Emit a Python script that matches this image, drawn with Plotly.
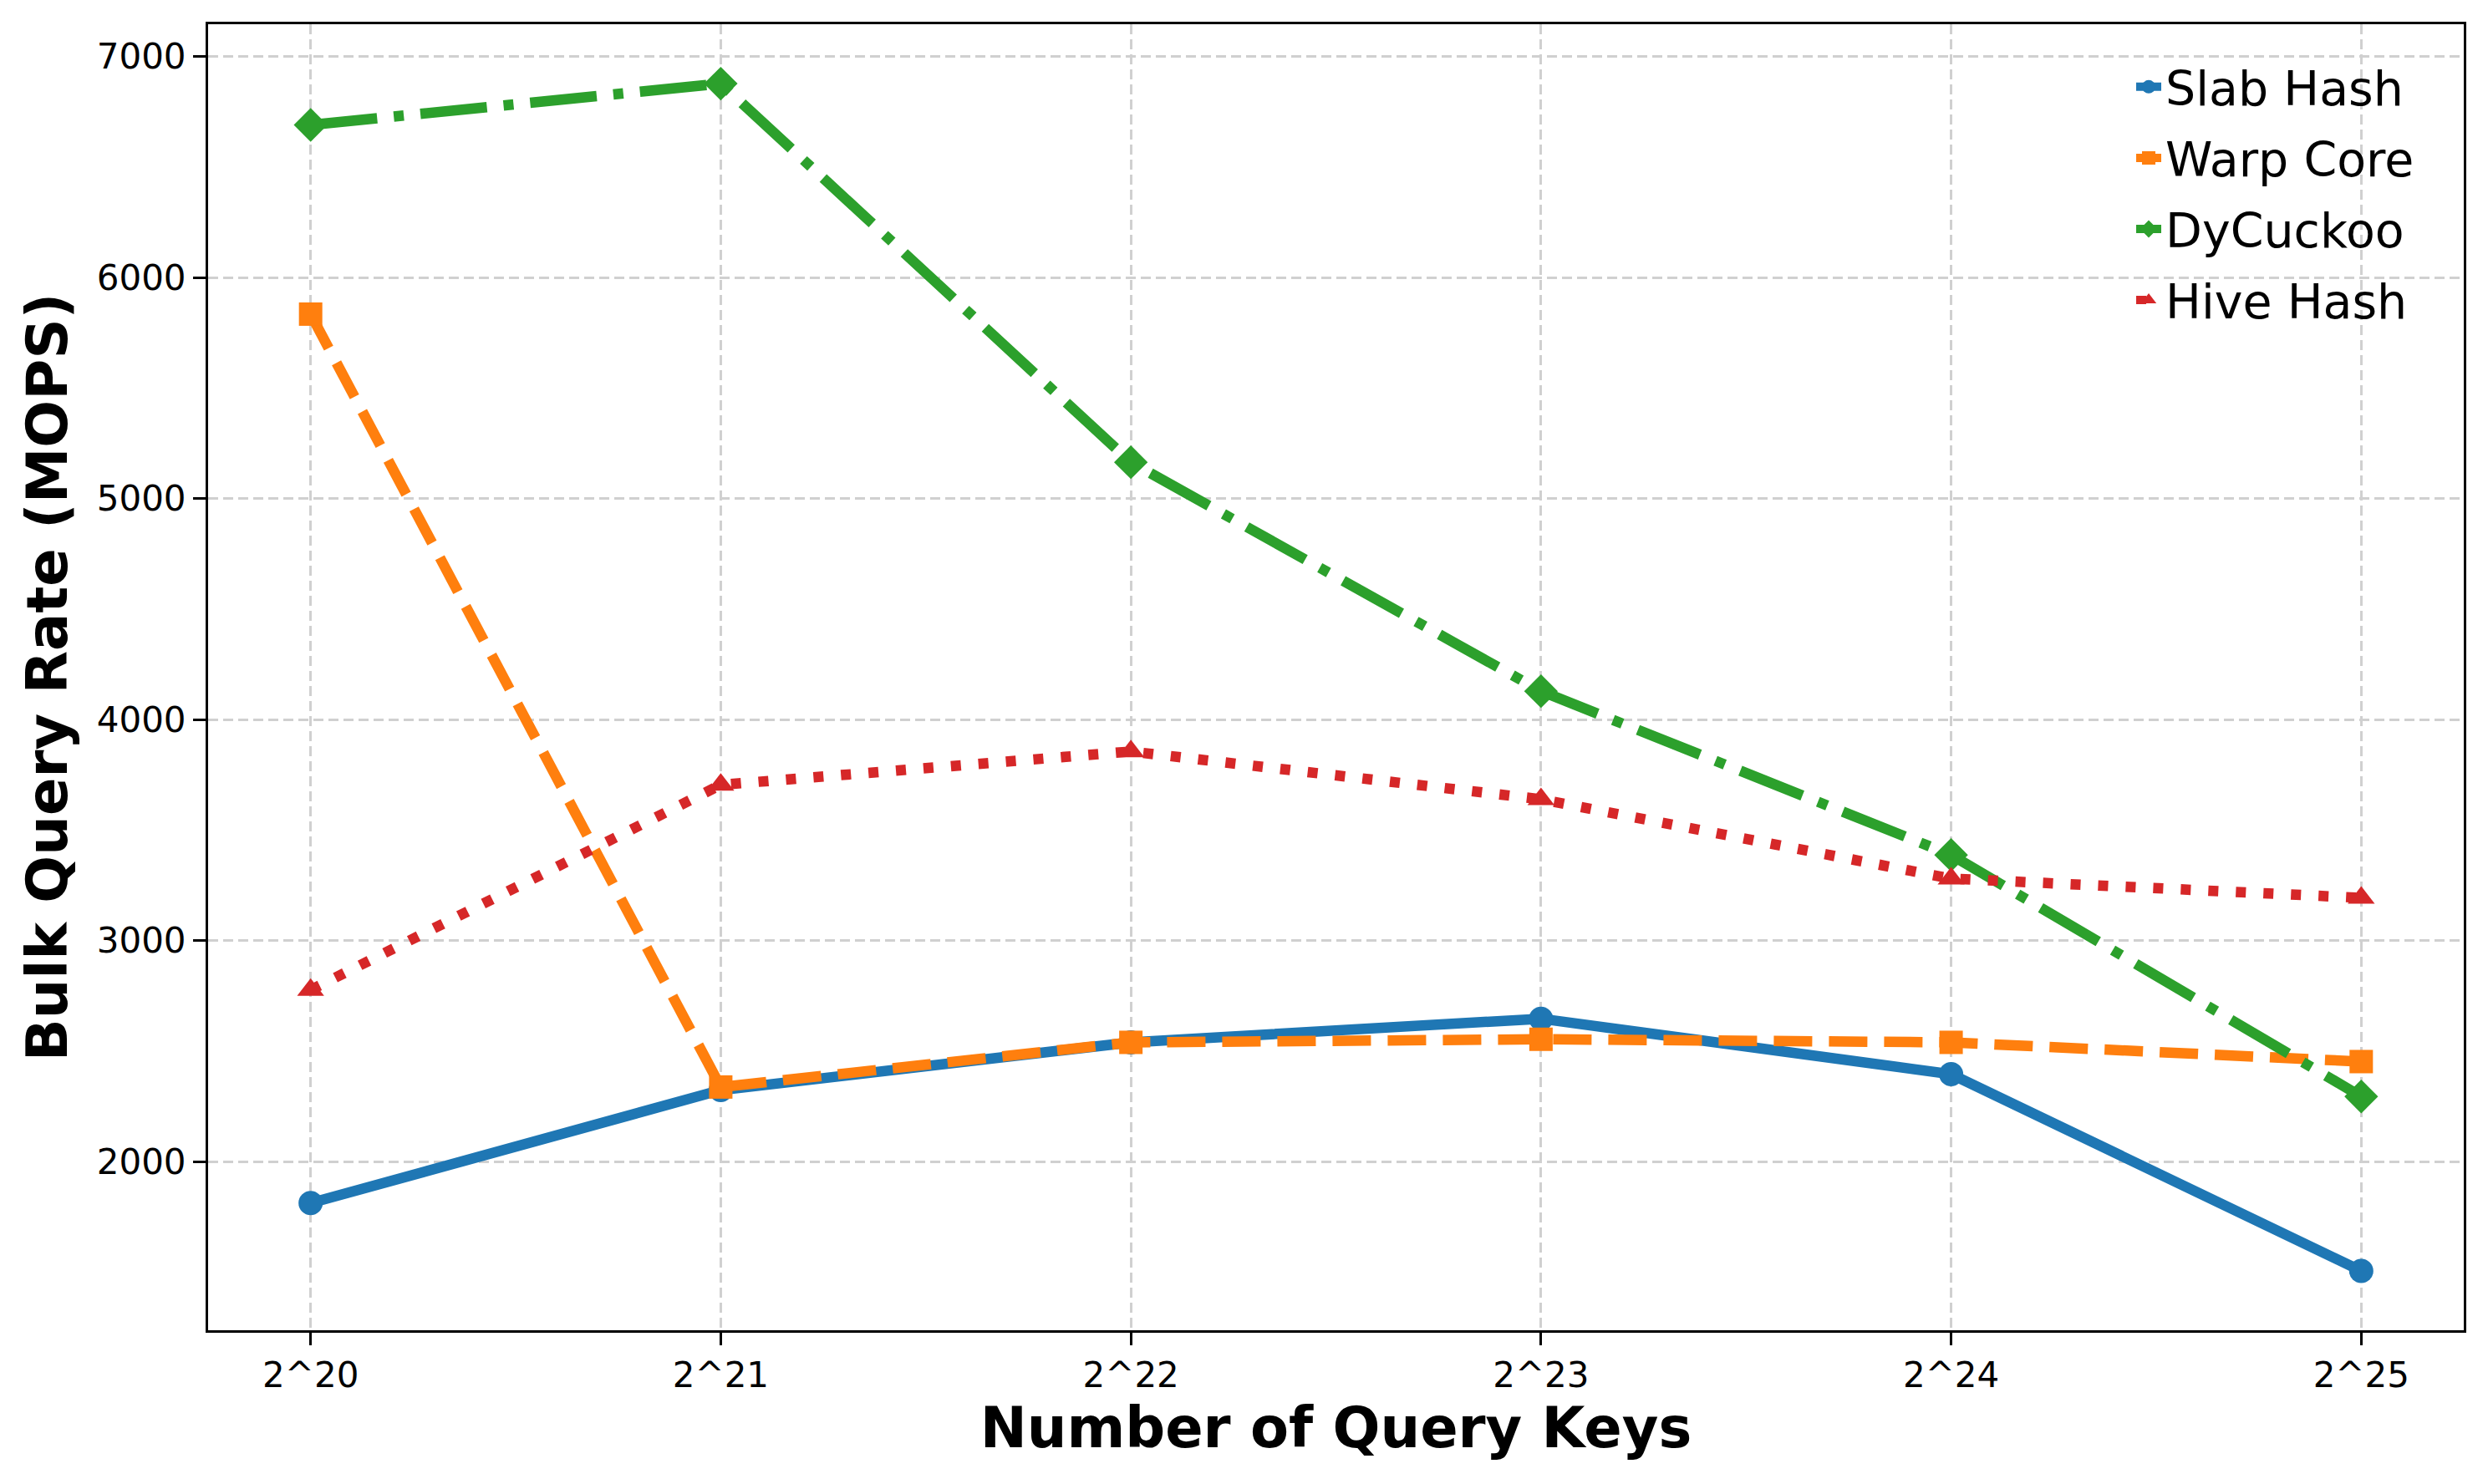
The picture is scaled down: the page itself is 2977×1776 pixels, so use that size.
import plotly.graph_objects as go

categories = ["2^20", "2^21", "2^22", "2^23", "2^24", "2^25"]
slab_hash = [1813, 2324, 2540, 2647, 2396, 1506]
warp_core = [5835, 2338, 2540, 2554, 2540, 2453]
dycuckoo = [6691, 6878, 5165, 4129, 3388, 2295]
hive_hash = [2777, 3705, 3856, 3640, 3281, 3194]
y_ticks = [2000, 3000, 4000, 5000, 6000, 7000]

series = [
    ("Slab Hash", slab_hash, "#1f77b4", "solid", "circle", 29),
    ("Warp Core", warp_core, "#ff7f0e", "46px,20px", "square", 28),
    ("DyCuckoo", dycuckoo, "#2ca02c", "80px,20px,12px,20px", "diamond", 31),
    ("Hive Hash", hive_hash, "#d62728", "12px,21px", "triangle-up", 28),
]

x = list(range(len(categories)))
fig = go.Figure()
for name, vals, color, dash, sym, ms in series:
    fig.add_trace(go.Scatter(
        x=x, y=vals, name=name, mode="lines+markers", legendgroup=name,
        line=dict(color=color, width=12.5, dash=dash),
        marker=dict(symbol=sym, size=ms, color=color, line=dict(width=0)),
    ))

all_vals = slab_hash + warp_core + dycuckoo + hive_hash
lo, hi = min(all_vals), max(all_vals)
pad = (hi - lo) * 0.05

axis_common = dict(
    showline=True, linecolor="black", linewidth=3, mirror=True,
    ticks="outside", ticklen=15, tickwidth=3, tickcolor="black",
    showgrid=True, gridcolor="#d0d0d0", gridwidth=2.5, griddash="12px,6px",
    zeroline=False,
    tickfont=dict(family="DejaVu Sans", size=42, color="black"),
)

# page body has a default 8px margin, so the figure is sized to fit inside it
fig.update_layout(
    width=2961, height=1760,
    paper_bgcolor="white", plot_bgcolor="white",
    margin=dict(l=241, r=21, t=21, b=176),
    xaxis=dict(
        axis_common,
        tickmode="array", tickvals=x, ticktext=categories,
        range=[-0.25, len(categories) - 0.75],
        title=dict(text="Number of Query Keys", standoff=16,
                   font=dict(family="DejaVu Sans", size=67, color="black", weight="bold")),
    ),
    yaxis=dict(
        axis_common,
        tickmode="array", tickvals=y_ticks,
        range=[lo - pad, hi + pad],
        title=dict(text="Bulk Query Rate (MOPS)", standoff=14,
                   font=dict(family="DejaVu Sans", size=67, color="black", weight="bold")),
    ),
    legend=dict(
        x=0.980, y=0.980, xanchor="right", yanchor="top",
        bgcolor="rgba(255,255,255,0)", borderwidth=0,
        font=dict(family="DejaVu Sans", size=57, color="black"),
        tracegroupgap=8,
    ),
    showlegend=True,
)

fig.write_html("out.html")
